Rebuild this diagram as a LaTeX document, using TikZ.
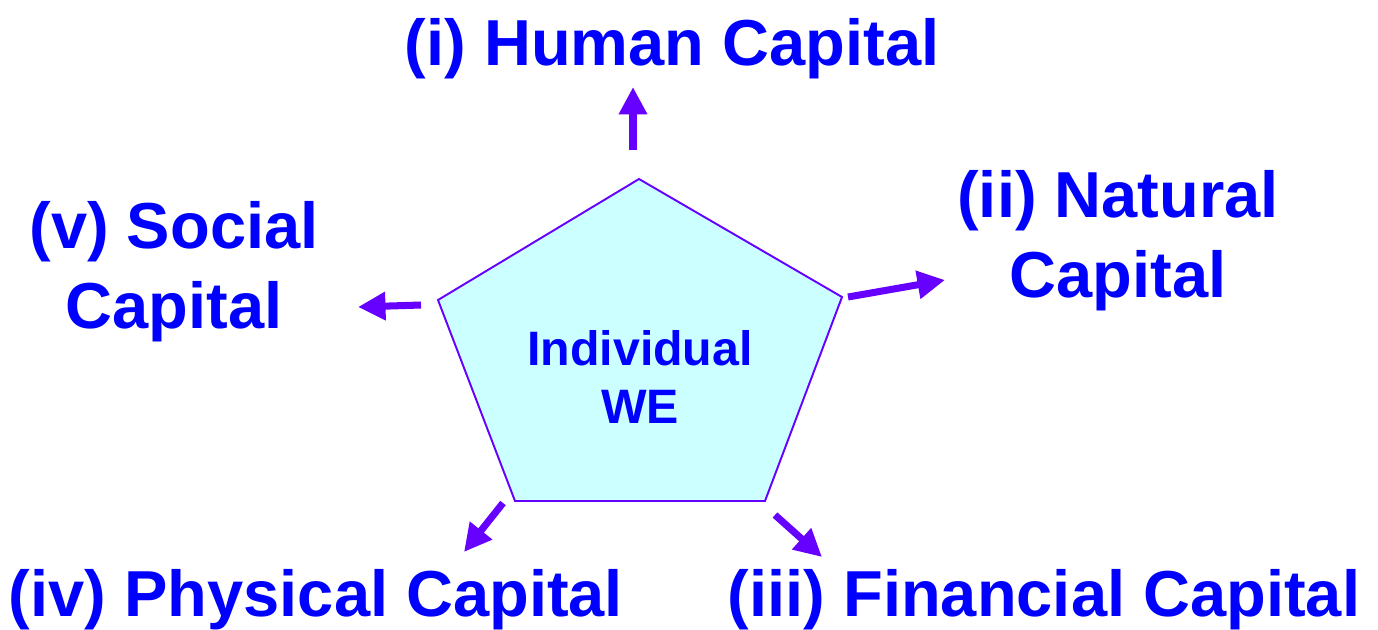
\documentclass[tikz,border=0pt]{standalone}
\usepackage{fontspec}
\setmainfont{Liberation Sans}
\usepackage{xcolor}
\usetikzlibrary{arrows.meta}

\definecolor{capblue}{RGB}{0,0,255}
\definecolor{arrowviolet}{RGB}{102,0,255}
\definecolor{pentfill}{RGB}{204,255,255}

\begin{document}
\begin{tikzpicture}[x=0.02cm, y=-0.02cm,
  every node/.style={text=capblue, inner sep=0pt, align=center, anchor=base,
    font=\fontsize{37}{45}\selectfont\bfseries},
  outarrow/.style={draw=arrowviolet, line width=4pt, -{Triangle[length=0.55cm, width=0.54cm]}}]
\useasboundingbox (0,0) rectangle (1378,629);

% the pentagon
\coordinate (p1) at (639,179);
\coordinate (p2) at (842,297);
\coordinate (p3) at (765,501);
\coordinate (p4) at (515,501);
\coordinate (p5) at (438,300);
\draw[draw=arrowviolet, fill=pentfill, line width=1.1pt] (p1)--(p2)--(p3)--(p4)--(p5)--cycle;
\node[font=\fontsize{27.5}{33}\selectfont\bfseries] (we) at (640,423) {Individual\\WE};

% the five capitals
\node (human) at (672,65) {(i) Human Capital};
\node (natural) at (1118,297) {(ii) Natural\\Capital};
\node (financial) at (1044,616) {(iii) Financial Capital};
\node (physical) at (316,616) {(iv) Physical Capital};
\node (social) at (174,328) {(v) Social\\Capital};

% arrows
\coordinate (h0) at (633,150); \coordinate (h1) at (633,87);
\coordinate (n0) at (848,297); \coordinate (n1) at (945,280);
\coordinate (f0) at (775,515); \coordinate (f1) at (822,557);
\coordinate (y0) at (503,503); \coordinate (y1) at (464,552);
\coordinate (s0) at (421,305); \coordinate (s1) at (358,307);
\draw[outarrow] (h0) -- (h1);
\draw[outarrow] (n0) -- (n1);
\draw[outarrow] (f0) -- (f1);
\draw[outarrow] (y0) -- (y1);
\draw[outarrow] (s0) -- (s1);
\end{tikzpicture}
\end{document}
